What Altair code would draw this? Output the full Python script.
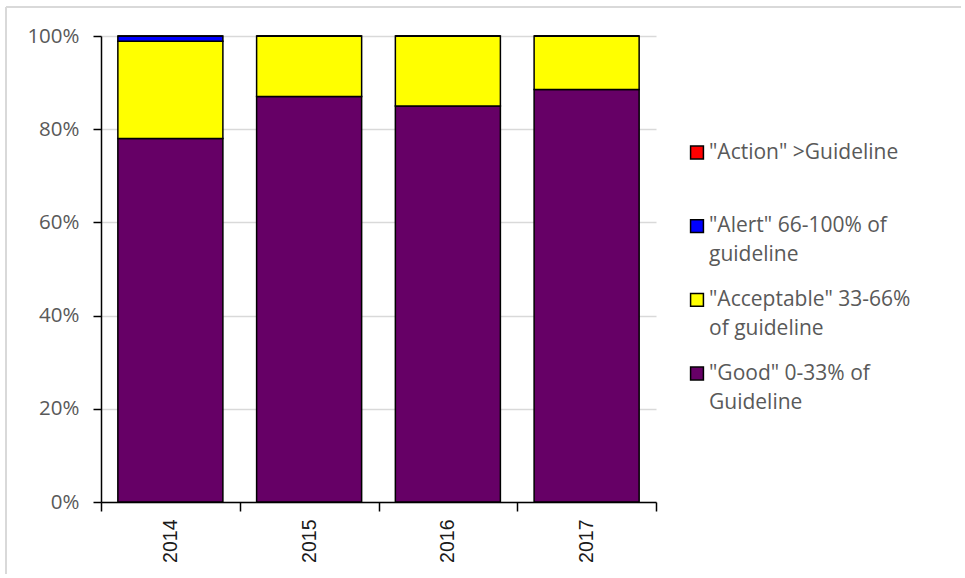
import altair as alt
import pandas as pd

years = ["2014", "2015", "2016", "2017"]
good = [78.0, 87.0, 85.0, 88.5]
acceptable = [20.9, 13.0, 15.0, 11.5]
alert = [1.1, 0.0, 0.0, 0.0]
action = [0.0, 0.0, 0.0, 0.0]

series = ["Good", "Acceptable", "Alert", "Action"]
colors = ["#660066", "#FFFF00", "#0000FF", "#FF0000"]
legend_order = ["Action", "Alert", "Acceptable", "Good"]
legend_labels = [
    '"Action" >Guideline',
    '"Alert" 66-100% of\nguideline',
    '"Acceptable" 33-66%\nof guideline',
    '"Good" 0-33% of\nGuideline',
]

rows = []
for i, y in enumerate(years):
    for k, (s, vals) in enumerate(zip(series, [good, acceptable, alert, action])):
        rows.append({"year": y, "series": s, "value": vals[i], "k": k})
df = pd.DataFrame(rows)
leg = pd.DataFrame({"series": legend_order, "label": legend_labels})

color = alt.Color("series:N", scale=alt.Scale(domain=series, range=colors), legend=None)

bars = alt.Chart(df).mark_bar(stroke="black", strokeWidth=1.5,
                              width=alt.RelativeBandSize(0.757)).encode(
    x=alt.X("year:N", sort=years, title=None,
            scale=alt.Scale(paddingInner=0, paddingOuter=0),
            axis=alt.Axis(labelAngle=270, labelFont="Liberation Sans", labelFontSize=19.5,
                          labelColor="#1a1a1a", tickBand="extent", tickColor="black",
                          tickSize=9, tickWidth=1.5, domainColor="black", domainWidth=1.5,
                          labelPadding=8, grid=False)),
    y=alt.Y("value:Q", stack="normalize", title=None,
            scale=alt.Scale(domain=[0, 1]),
            axis=alt.Axis(values=[0, 0.2, 0.4, 0.6, 0.8, 1.0], format=".0%",
                          labelFont="Open Sans", labelFontSize=20.5, labelColor="#595959",
                          tickColor="black", tickSize=8, tickWidth=1.5,
                          domainColor="black", domainWidth=1.5, labelPadding=14,
                          gridColor="#d9d9d9", gridWidth=1.5,
                          minExtent=95, maxExtent=95)),
    color=color,
    order=alt.Order("k:Q"),
)

ly = alt.Y("series:N", sort=legend_order, axis=None,
           scale=alt.Scale(type="point", padding=0, range=[116.5, 337.5]))

leg_sym = alt.Chart(leg).mark_square(size=165, stroke="black", strokeWidth=1.5, opacity=1).encode(
    x=alt.value(596), y=ly, color=color)

leg_txt = alt.Chart(leg).mark_text(align="left", baseline="top", dy=-11, lineBreak="\n",
                                   lineHeight=29, font="Open Sans", fontSize=21,
                                   color="#595959").encode(
    x=alt.value(608), y=ly, text="label:N")

border_top = alt.Chart(leg).mark_rule(color="#d9d9d9", strokeWidth=1.5).encode(
    x=alt.value(-95), x2=alt.value(860), y=alt.value(-29))
border_left = alt.Chart(leg).mark_rule(color="#d9d9d9", strokeWidth=1.5).encode(
    x=alt.value(-95), y=alt.value(-29), y2=alt.value(538))

chart = alt.layer(bars, leg_sym, leg_txt, border_top, border_left).resolve_scale(
    y="independent"
).properties(
    width=555, height=466,
    padding={"left": 5, "top": 6, "right": 0, "bottom": 0},
).configure_view(stroke=None)

chart.save("out.html", embed_options={"renderer": "svg", "actions": False})
